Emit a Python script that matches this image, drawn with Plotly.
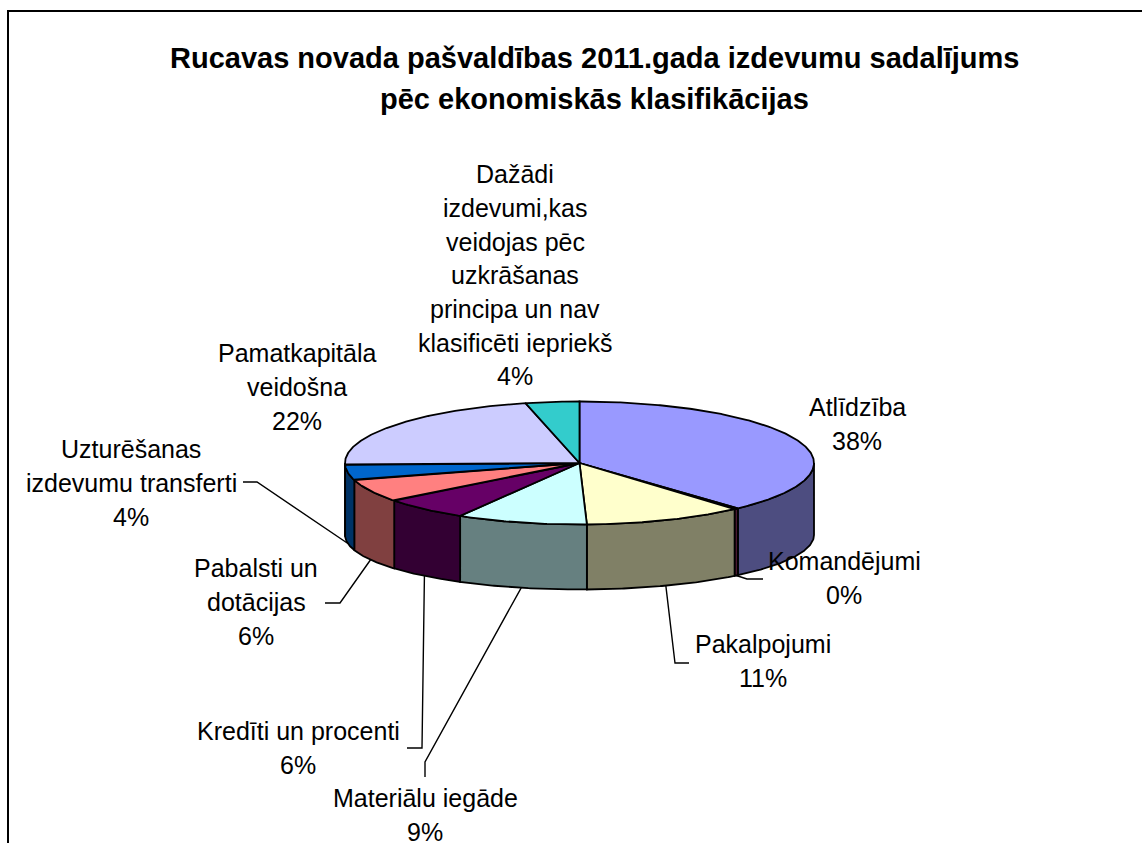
import numpy as np
import plotly.graph_objects as go

# ---------------- data ----------------
title_lines = ["Rucavas novada pašvaldības 2011.gada izdevumu sadalījums",
               "pēc ekonomiskās klasifikācijas"]
categories = ["Atlīdzība", "Komandējumi", "Pakalpojumi", "Materiālu iegāde",
              "Kredīti un procenti", "Pabalsti un dotācijas",
              "Uzturēšanas izdevumu transferti", "Pamatkapitāla veidošna",
              "Dažādi izdevumi,kas veidojas pēc uzkrāšanas principa un nav klasificēti iepriekš"]
shares = [38.2, 0.3, 11.0, 9.0, 6.0, 6.0, 4.0, 21.8, 3.7]
label_lines = [["Atlīdzība"], ["Komandējumi"], ["Pakalpojumi"], ["Materiālu iegāde"],
               ["Kredīti un procenti"], ["Pabalsti un", "dotācijas"],
               ["Uzturēšanas", "izdevumu transferti"], ["Pamatkapitāla", "veidošna"],
               ["Dažādi", "izdevumi,kas", "veidojas pēc", "uzkrāšanas",
                "principa un nav", "klasificēti iepriekš"]]
top_colors = ["#9999FF", "#993366", "#FFFFCC", "#CCFFFF", "#660066",
              "#FF8080", "#0066CC", "#CCCCFF", "#33CCCC"]
side_colors = ["#4D4D80", "#4D1A33", "#808066", "#668080", "#330033",
               "#804040", "#003366", "#666680", "#1A6666"]

# ---------------- layout constants ----------------
W, H = 1142, 843
CX, CY, RX, RY = 579.5, 463.0, 234.5, 61.5      # top ellipse
CYB, RYB = 535.0, 54.5                            # bottom ellipse
FONT = "Liberation Sans, Arial, sans-serif"
FS = 25
LS = 33.7
# label anchor: centre x, first baseline y
label_pos = [(857, 416), (844, 570), (763, 653), (425, 807), (298, 740),
             (256, 577), (131, 458), (297, 362), (515, 183)]
# leader lines: elbow and end point (None when no leader)
leaders = [None, ((747, 579), (763, 579)), ((675, 663), (689, 663)),
           ((425, 762), (425, 777)), ((422, 748), (407, 748)),
           ((340, 603), (325, 603)), ((257, 482), (243, 482)), None, None]


def top_pt(th):
    r = np.radians(th)
    return CX + RX * np.sin(r), CY - RY * np.cos(r)


def bot_pt(th):
    r = np.radians(th)
    return CX + RX * np.sin(r), CYB - RYB * np.cos(r)


total = sum(shares)
bounds = np.concatenate([[0], np.cumsum(shares)]) / total * 360.0

fig = go.Figure()

# side walls (front half only)
for i in range(len(shares)):
    a0, a1 = bounds[i], bounds[i + 1]
    lo, hi = max(a0, 90.0), min(a1, 270.0)
    if hi <= lo:
        continue
    th = np.linspace(lo, hi, max(3, int((hi - lo) * 2)))
    tx, ty = top_pt(th)
    bx, by = bot_pt(th[::-1])
    xs = np.concatenate([tx, bx, tx[:1]])
    ys = np.concatenate([ty, by, ty[:1]])
    fig.add_trace(go.Scatter(x=xs, y=ys, mode="lines", fill="toself",
                             fillcolor=side_colors[i],
                             line=dict(color="black", width=1.8),
                             hoverinfo="skip", showlegend=False))

# top faces
for i in range(len(shares)):
    a0, a1 = bounds[i], bounds[i + 1]
    th = np.linspace(a0, a1, max(3, int((a1 - a0) * 2)))
    tx, ty = top_pt(th)
    xs = np.concatenate([[CX], tx, [CX]])
    ys = np.concatenate([[CY], ty, [CY]])
    fig.add_trace(go.Scatter(x=xs, y=ys, mode="lines", fill="toself",
                             fillcolor=top_colors[i],
                             line=dict(color="black", width=1.8),
                             hoverinfo="skip", showlegend=False))

# leader lines
for i in range(len(shares)):
    if leaders[i] is None:
        continue
    mid = (bounds[i] + bounds[i + 1]) / 2
    sx, sy = bot_pt(mid)
    (ex, ey), (fx, fy) = leaders[i]
    fig.add_trace(go.Scatter(x=[sx, ex, fx], y=[sy, ey, fy], mode="lines",
                             line=dict(color="black", width=1.4),
                             hoverinfo="skip", showlegend=False))

annotations = []
# data labels
for i in range(len(shares)):
    lines = label_lines[i] + [f"{round(shares[i] / total * 100)}%"]
    x0, y0 = label_pos[i]
    for k, t in enumerate(lines):
        annotations.append(dict(x=x0, y=y0 + k * LS - 0.35 * FS, text=t,
                                xref="x", yref="y", showarrow=False,
                                xanchor="center", yanchor="middle",
                                font=dict(family=FONT, size=FS, color="black")))
# title
TFS = 29
title_centres = [58, 99]
for k, t in enumerate(title_lines):
    annotations.append(dict(x=594, y=title_centres[k], text=f"<b>{t}</b>",
                            xref="x", yref="y", showarrow=False,
                            xanchor="center", yanchor="middle",
                            font=dict(family=FONT, size=TFS, color="black")))

fig.update_layout(
    width=W, height=H, margin=dict(l=0, r=0, t=0, b=0),
    paper_bgcolor="white", plot_bgcolor="white",
    xaxis=dict(range=[0, W], visible=False, fixedrange=True),
    yaxis=dict(range=[H, 0], visible=False, fixedrange=True),
    annotations=annotations,
    shapes=[dict(type="rect", xref="x", yref="y", x0=8, y0=11, x1=W + 20, y1=H + 20,
                 line=dict(color="black", width=2), fillcolor="rgba(0,0,0,0)")],
    showlegend=False,
)

fig.write_html("out.html")
